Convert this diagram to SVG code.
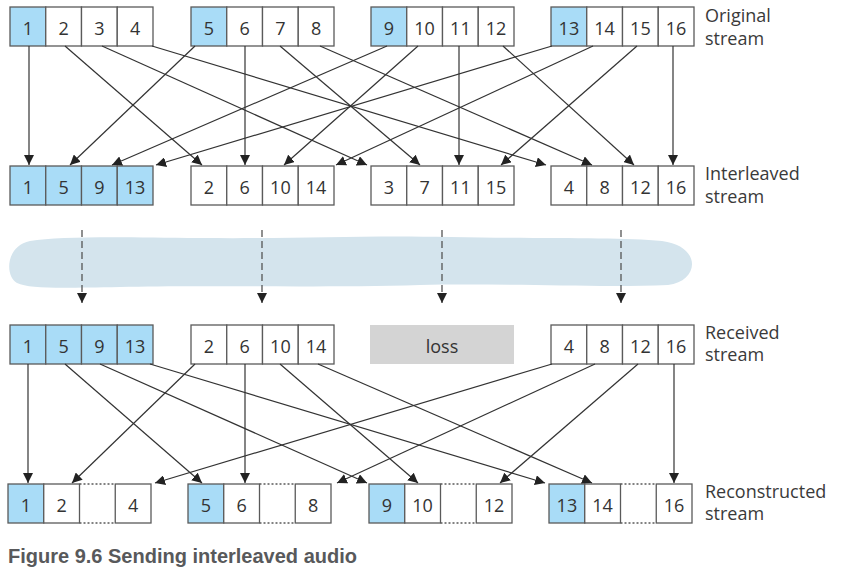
<svg xmlns="http://www.w3.org/2000/svg" width="845" height="575" viewBox="0 0 845 575">
<style>
.c{fill:#fff;stroke:#5a5a5a;stroke-width:1.3}
.b{fill:#a9dcf7;stroke:#5a5a5a;stroke-width:1.3}
.n{font-family:"Open Sans","Noto Sans",sans-serif;font-size:18px;fill:#333;text-anchor:middle}
.l{font-family:"Open Sans","Noto Sans",sans-serif;font-size:18px;fill:#3a3a3a}
.a{stroke:#333;stroke-width:1.2;fill:none;marker-end:url(#ah)}
.d{stroke:#555;stroke-width:1.3;fill:none;stroke-dasharray:7,4;marker-end:url(#ah)}
.dot{stroke:#5a5a5a;stroke-width:1.3;stroke-dasharray:2,2;fill:none}
</style>
<defs>
<marker id="ah" markerUnits="userSpaceOnUse" markerWidth="10" markerHeight="10" refX="10" refY="5" orient="auto">
<path d="M0,0 L10,5 L0,10 z" fill="#222"/>
</marker>
</defs>
<rect width="845" height="575" fill="#fff"/>

<!-- cloud -->
<path id="network" d="M30,241 C60,236 120,237 200,238 C300,239 360,235 450,237 C550,239 620,237 662,241 C702,246 700,281 668,285 C600,288 500,283 420,285 C320,288 200,285 120,287 C60,288 30,289 17,283 C5,277 5,246 30,241 Z" fill="#d4e4ed"/>

<!-- Row 1: original stream -->
<g id="orig-1">
<rect class="b" x="10" y="7" width="35.75" height="39"/><rect class="c" x="45.75" y="7" width="35.75" height="39"/><rect class="c" x="81.5" y="7" width="35.75" height="39"/><rect class="c" x="117.25" y="7" width="35.75" height="39"/>
<text class="n" x="27.9" y="35">1</text><text class="n" x="63.6" y="35">2</text><text class="n" x="99.4" y="35">3</text><text class="n" x="135.1" y="35">4</text>
</g>
<g id="orig-2">
<rect class="b" x="191" y="7" width="35.75" height="39"/><rect class="c" x="226.75" y="7" width="35.75" height="39"/><rect class="c" x="262.5" y="7" width="35.75" height="39"/><rect class="c" x="298.25" y="7" width="35.75" height="39"/>
<text class="n" x="208.9" y="35">5</text><text class="n" x="244.6" y="35">6</text><text class="n" x="280.4" y="35">7</text><text class="n" x="316.1" y="35">8</text>
</g>
<g id="orig-3">
<rect class="b" x="371" y="7" width="35.75" height="39"/><rect class="c" x="406.75" y="7" width="35.75" height="39"/><rect class="c" x="442.5" y="7" width="35.75" height="39"/><rect class="c" x="478.25" y="7" width="35.75" height="39"/>
<text class="n" x="388.9" y="35">9</text><text class="n" x="424.6" y="35">10</text><text class="n" x="460.4" y="35">11</text><text class="n" x="496.1" y="35">12</text>
</g>
<g id="orig-4">
<rect class="b" x="551" y="7" width="35.75" height="39"/><rect class="c" x="586.75" y="7" width="35.75" height="39"/><rect class="c" x="622.5" y="7" width="35.75" height="39"/><rect class="c" x="658.25" y="7" width="35.75" height="39"/>
<text class="n" x="568.9" y="35">13</text><text class="n" x="604.6" y="35">14</text><text class="n" x="640.4" y="35">15</text><text class="n" x="676.1" y="35">16</text>
</g>
<g id="label-original"><text class="l" x="705" y="22">Original</text><text class="l" x="705" y="45">stream</text></g>

<!-- Row 2: interleaved stream -->
<g id="inter-1">
<rect class="b" x="10" y="166" width="35.75" height="39"/><rect class="b" x="45.75" y="166" width="35.75" height="39"/><rect class="b" x="81.5" y="166" width="35.75" height="39"/><rect class="b" x="117.25" y="166" width="35.75" height="39"/>
<text class="n" x="27.9" y="194">1</text><text class="n" x="63.6" y="194">5</text><text class="n" x="99.4" y="194">9</text><text class="n" x="135.1" y="194">13</text>
</g>
<g id="inter-2">
<rect class="c" x="191" y="166" width="35.75" height="39"/><rect class="c" x="226.75" y="166" width="35.75" height="39"/><rect class="c" x="262.5" y="166" width="35.75" height="39"/><rect class="c" x="298.25" y="166" width="35.75" height="39"/>
<text class="n" x="208.9" y="194">2</text><text class="n" x="244.6" y="194">6</text><text class="n" x="280.4" y="194">10</text><text class="n" x="316.1" y="194">14</text>
</g>
<g id="inter-3">
<rect class="c" x="371" y="166" width="35.75" height="39"/><rect class="c" x="406.75" y="166" width="35.75" height="39"/><rect class="c" x="442.5" y="166" width="35.75" height="39"/><rect class="c" x="478.25" y="166" width="35.75" height="39"/>
<text class="n" x="388.9" y="194">3</text><text class="n" x="424.6" y="194">7</text><text class="n" x="460.4" y="194">11</text><text class="n" x="496.1" y="194">15</text>
</g>
<g id="inter-4">
<rect class="c" x="551" y="166" width="35.75" height="39"/><rect class="c" x="586.75" y="166" width="35.75" height="39"/><rect class="c" x="622.5" y="166" width="35.75" height="39"/><rect class="c" x="658.25" y="166" width="35.75" height="39"/>
<text class="n" x="568.9" y="194">4</text><text class="n" x="604.6" y="194">8</text><text class="n" x="640.4" y="194">12</text><text class="n" x="676.1" y="194">16</text>
</g>
<g id="label-interleaved"><text class="l" x="705" y="180">Interleaved</text><text class="l" x="705" y="203">stream</text></g>

<!-- Row 3: received stream -->
<g id="recv-1">
<rect class="b" x="10" y="325" width="35.75" height="39"/><rect class="b" x="45.75" y="325" width="35.75" height="39"/><rect class="b" x="81.5" y="325" width="35.75" height="39"/><rect class="b" x="117.25" y="325" width="35.75" height="39"/>
<text class="n" x="27.9" y="353">1</text><text class="n" x="63.6" y="353">5</text><text class="n" x="99.4" y="353">9</text><text class="n" x="135.1" y="353">13</text>
</g>
<g id="recv-2">
<rect class="c" x="191" y="325" width="35.75" height="39"/><rect class="c" x="226.75" y="325" width="35.75" height="39"/><rect class="c" x="262.5" y="325" width="35.75" height="39"/><rect class="c" x="298.25" y="325" width="35.75" height="39"/>
<text class="n" x="208.9" y="353">2</text><text class="n" x="244.6" y="353">6</text><text class="n" x="280.4" y="353">10</text><text class="n" x="316.1" y="353">14</text>
</g>
<g id="recv-loss">
<rect x="370" y="325" width="144" height="39" fill="#d4d4d4"/>
<text class="n" x="442" y="353">loss</text>
</g>
<g id="recv-4">
<rect class="c" x="551" y="325" width="35.75" height="39"/><rect class="c" x="586.75" y="325" width="35.75" height="39"/><rect class="c" x="622.5" y="325" width="35.75" height="39"/><rect class="c" x="658.25" y="325" width="35.75" height="39"/>
<text class="n" x="568.9" y="353">4</text><text class="n" x="604.6" y="353">8</text><text class="n" x="640.4" y="353">12</text><text class="n" x="676.1" y="353">16</text>
</g>
<g id="label-received"><text class="l" x="705" y="339">Received</text><text class="l" x="705" y="361">stream</text></g>

<!-- Row 4: reconstructed stream -->
<g id="recon-1">
<rect class="b" x="8" y="484" width="35.75" height="39"/><rect class="c" x="43.75" y="484" width="35.75" height="39"/>
<path class="dot" d="M79.5,484 H115.25 M79.5,523 H115.25"/>
<rect class="c" x="115.25" y="484" width="35.75" height="39"/>
<text class="n" x="25.9" y="512">1</text><text class="n" x="61.6" y="512">2</text><text class="n" x="133.1" y="512">4</text>
</g>
<g id="recon-2">
<rect class="b" x="188" y="484" width="35.75" height="39"/><rect class="c" x="223.75" y="484" width="35.75" height="39"/>
<path class="dot" d="M259.5,484 H295.25 M259.5,523 H295.25"/>
<rect class="c" x="295.25" y="484" width="35.75" height="39"/>
<text class="n" x="205.9" y="512">5</text><text class="n" x="241.6" y="512">6</text><text class="n" x="313.1" y="512">8</text>
</g>
<g id="recon-3">
<rect class="b" x="369" y="484" width="35.75" height="39"/><rect class="c" x="404.75" y="484" width="35.75" height="39"/>
<path class="dot" d="M440.5,484 H476.25 M440.5,523 H476.25"/>
<rect class="c" x="476.25" y="484" width="35.75" height="39"/>
<text class="n" x="386.9" y="512">9</text><text class="n" x="422.6" y="512">10</text><text class="n" x="494.1" y="512">12</text>
</g>
<g id="recon-4">
<rect class="b" x="549" y="484" width="35.75" height="39"/><rect class="c" x="584.75" y="484" width="35.75" height="39"/>
<path class="dot" d="M620.5,484 H656.25 M620.5,523 H656.25"/>
<rect class="c" x="656.25" y="484" width="35.75" height="39"/>
<text class="n" x="566.9" y="512">13</text><text class="n" x="602.6" y="512">14</text><text class="n" x="674.1" y="512">16</text>
</g>
<g id="label-reconstructed"><text class="l" x="705" y="498">Reconstructed</text><text class="l" x="705" y="520">stream</text></g>

<!-- connectors -->
<g id="connectors">
<line class="a" x1="29" y1="46" x2="29" y2="165"/>
<line class="a" x1="65" y1="46" x2="202" y2="165"/>
<line class="a" x1="102" y1="46" x2="367" y2="165"/>
<line class="a" x1="152" y1="46" x2="546" y2="165"/>
<line class="a" x1="195" y1="46" x2="70" y2="165"/>
<line class="a" x1="245" y1="46" x2="245" y2="165"/>
<line class="a" x1="280" y1="46" x2="420" y2="165"/>
<line class="a" x1="320" y1="46" x2="592" y2="165"/>
<line class="a" x1="387" y1="46" x2="112" y2="165"/>
<line class="a" x1="418" y1="46" x2="284" y2="165"/>
<line class="a" x1="459" y1="46" x2="459" y2="165"/>
<line class="a" x1="503" y1="46" x2="634" y2="165"/>
<line class="a" x1="552" y1="46" x2="156" y2="165"/>
<line class="a" x1="593" y1="46" x2="336" y2="165"/>
<line class="a" x1="637" y1="46" x2="501" y2="165"/>
<line class="a" x1="673" y1="46" x2="673" y2="165"/>

<line class="d" x1="82" y1="230" x2="82" y2="303"/>
<line class="d" x1="262" y1="230" x2="262" y2="303"/>
<line class="d" x1="442" y1="230" x2="442" y2="303"/>
<line class="d" x1="621" y1="230" x2="621" y2="303"/>

<line class="a" x1="28" y1="364" x2="28" y2="483"/>
<line class="a" x1="65" y1="364" x2="202" y2="483"/>
<line class="a" x1="100" y1="364" x2="367" y2="483"/>
<line class="a" x1="150" y1="364" x2="545" y2="483"/>
<line class="a" x1="195" y1="364" x2="72" y2="483"/>
<line class="a" x1="245" y1="364" x2="245" y2="483"/>
<line class="a" x1="280" y1="364" x2="418" y2="483"/>
<line class="a" x1="318" y1="364" x2="592" y2="483"/>
<line class="a" x1="552" y1="364" x2="155" y2="483"/>
<line class="a" x1="595" y1="364" x2="337" y2="483"/>
<line class="a" x1="638" y1="364" x2="500" y2="483"/>
<line class="a" x1="674" y1="364" x2="674" y2="483"/>
</g>

<text id="caption" x="8" y="563" font-family="'Liberation Sans',Arial,sans-serif" font-weight="bold" font-size="20" fill="#58595b">Figure 9.6 Sending interleaved audio</text>
</svg>
